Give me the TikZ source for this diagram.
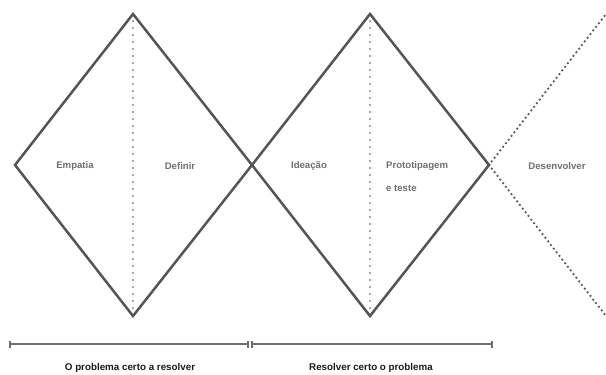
\documentclass[tikz,border=0pt]{standalone}
\usepackage{fontspec}
\setmainfont{Liberation Sans}
\definecolor{edge}{HTML}{555555}
\definecolor{lbl}{HTML}{707070}
\definecolor{cap}{HTML}{1A1A1A}
\begin{document}
\begin{tikzpicture}[x=1pt,y=-1pt,
  edgeline/.style={draw=edge,line width=2.5pt,line join=miter},
  midline/.style={draw=edge,line width=1.9pt,line cap=round,dash pattern=on 0pt off 7pt},
  fanline/.style={draw=edge,line width=2.5pt,line cap=round,dash pattern=on 0pt off 4.6pt},
  phase/.style={text=lbl,font=\bfseries\fontsize{9.6}{11}\selectfont,inner sep=0pt},
  spanline/.style={draw=edge!85,line width=1.5pt},
  spanlabel/.style={text=cap,font=\bfseries\fontsize{9.8}{11}\selectfont,inner sep=0pt}]
\useasboundingbox (0,0) rectangle (606,375);
% vertices
\coordinate (L1) at (15,165);
\coordinate (T1) at (133,14);
\coordinate (B1) at (133,316);
\coordinate (M) at (252,165);
\coordinate (T2) at (370,14);
\coordinate (B2) at (370,316);
\coordinate (R2) at (489,165);
\coordinate (FU) at (606,14);
\coordinate (FD) at (606,316);
% diamonds
\draw[edgeline] (L1) -- (T1) -- (M) -- (B1) -- cycle;
\draw[edgeline] (M) -- (T2) -- (R2) -- (B2) -- cycle;
% middle dotted lines
\draw[midline] (T1) -- (B1);
\draw[midline] (T2) -- (B2);
% fan
\draw[fanline] (R2) -- (FU);
\draw[fanline] (R2) -- (FD);
% labels
\node[phase] (emp) at (75,166) {Empatia};
\node[phase] (def) at (180,166) {Definir};
\node[phase] (ide) at (309,166) {Ideação};
\node[phase,anchor=west] (pro) at (386,166) {Prototipagem};
\node[phase,anchor=west] (tes) at (386,188) {e teste};
\node[phase] (des) at (557,166) {Desenvolver};
% spans
\coordinate (S1a) at (10,344);
\coordinate (S1b) at (248,344);
\coordinate (S2a) at (252,344);
\coordinate (S2b) at (492,344);
\draw[spanline] (S1a) -- (S1b);
\draw[spanline] (S2a) -- (S2b);
\foreach \p in {S1a,S1b,S2a,S2b} \draw[spanline,line width=1.1pt] ([yshift=-3.5pt]\p) -- ([yshift=3.5pt]\p);
\node[spanlabel] (lab1) at (130,368) {O problema certo a resolver};
\node[spanlabel] (lab2) at (371,368) {Resolver certo o problema};
\end{tikzpicture}
\end{document}
